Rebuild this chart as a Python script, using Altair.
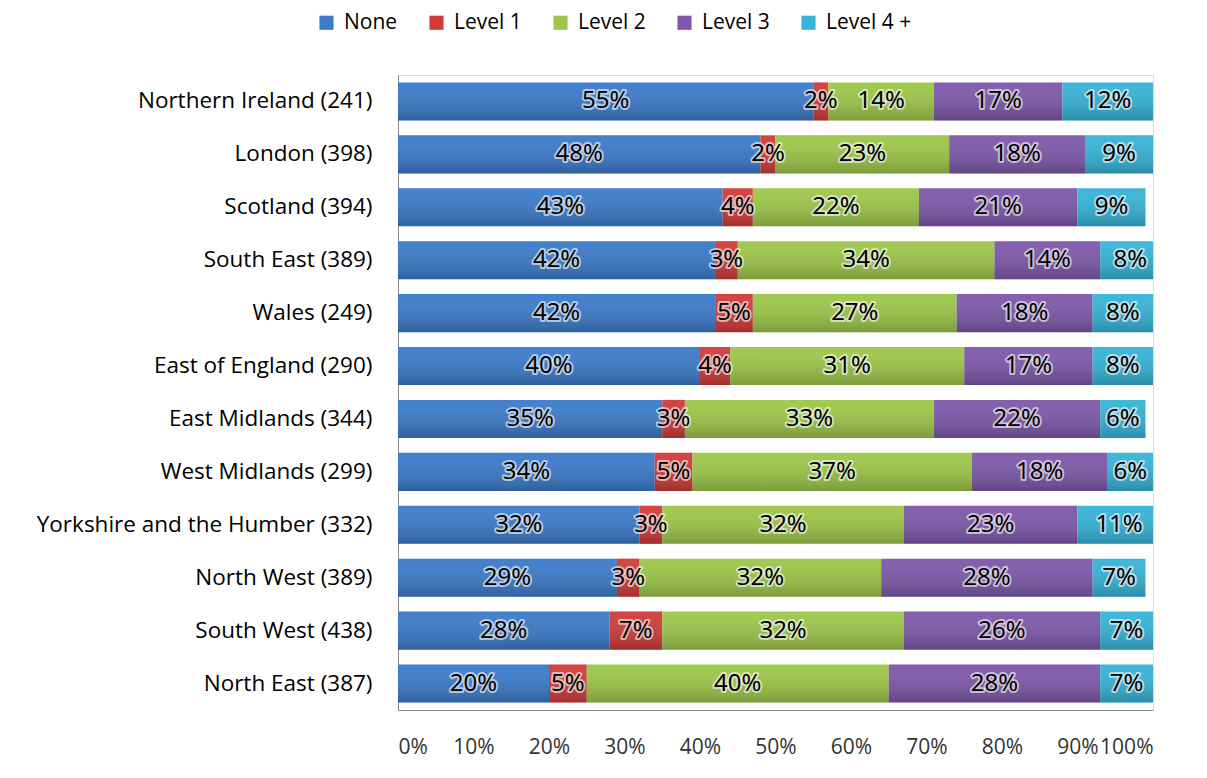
import altair as alt
import pandas as pd

regions = [
    "Northern Ireland (241)", "London (398)", "Scotland (394)", "South East (389)",
    "Wales (249)", "East of England (290)", "East Midlands (344)", "West Midlands (299)",
    "Yorkshire and the Humber (332)", "North West (389)", "South West (438)", "North East (387)",
]
levels = ["None", "Level 1", "Level 2", "Level 3", "Level 4 +"]
none_vals = [55, 48, 43, 42, 42, 40, 35, 34, 32, 29, 28, 20]
level1_vals = [2, 2, 4, 3, 5, 4, 3, 5, 3, 3, 7, 5]
level2_vals = [14, 23, 22, 34, 27, 31, 33, 37, 32, 32, 32, 40]
level3_vals = [17, 18, 21, 14, 18, 17, 22, 18, 23, 28, 26, 28]
level4_vals = [12, 9, 9, 8, 8, 8, 6, 6, 11, 7, 7, 7]
x_ticks = [0, 10, 20, 30, 40, 50, 60, 70, 80, 90, 100]
colors = ["#3B7BCA", "#D03C3A", "#9DC749", "#7E58AA", "#36B4D8"]

series = [none_vals, level1_vals, level2_vals, level3_vals, level4_vals]
rows = []
for li, (lvl, vals) in enumerate(zip(levels, series)):
    for r, v in zip(regions, vals):
        rows.append({"region": r, "level": lvl, "order": li, "value": v})
df = pd.DataFrame(rows)

FONT = "Open Sans"

base = alt.Chart(df).transform_stack(
    stack="value", groupby=["region"], as_=["x0", "x1"],
    sort=[alt.SortField("order", order="ascending")],
).transform_calculate(
    mid="(datum.x0 + datum.x1) / 2",
    label="datum.value + '%'",
)

y_enc = alt.Y(
    "region:N", sort=regions, title=None,
    scale=alt.Scale(paddingInner=0.28, paddingOuter=0.14),
    axis=alt.Axis(labelFontSize=22.5, labelFont=FONT, labelColor="black", ticks=False,
                  domainColor="#888888", labelPadding=26, minExtent=390, maxExtent=390,
                  labelLimit=400),
)
x_enc = alt.X("x0:Q", scale=alt.Scale(domain=[0, 100]), title=None,
              axis=alt.Axis(values=x_ticks, labelOverlap=False,
                            labelExpr="datum.value + '%'", labelFontSize=21, labelFont=FONT,
                            labelColor="#333333", grid=False, ticks=False, domainColor="#888888",
                            labelPadding=26))

bars = base.mark_bar(clip=True).encode(
    y=y_enc,
    x=x_enc,
    x2="x1:Q",
    color=alt.Color("level:N", scale=alt.Scale(domain=levels, range=colors),
                    legend=alt.Legend(title=None, orient="none", legendX=-82, legendY=-63,
                                      direction="horizontal", symbolType="square",
                                      symbolSize=200, symbolStrokeWidth=0,
                                      labelFontSize=21, labelFont=FONT, labelColor="black",
                                      columnPadding=28, labelOffset=7)),
)

shade = base.mark_bar(
    clip=True,
    color=alt.Gradient(
        gradient="linear", x1=0, y1=0, x2=0, y2=1,
        stops=[alt.GradientStop(offset=0, color="rgba(255,255,255,0.04)"),
               alt.GradientStop(offset=1, color="rgba(0,0,0,0.22)")],
    ),
).encode(y=alt.Y("region:N", sort=regions), x="x0:Q", x2="x1:Q")

halo = base.mark_text(fontSize=24, font=FONT, color="black", stroke="white",
                      strokeWidth=4, strokeOpacity=0.6, strokeJoin="round").encode(
    x="mid:Q", y=alt.Y("region:N", sort=regions), text="label:N")
txt = base.mark_text(fontSize=24, font=FONT, color="black").encode(
    x="mid:Q", y=alt.Y("region:N", sort=regions), text="label:N")

chart = alt.layer(bars, shade, halo, txt).properties(
    width=755, height=635, padding={"left": 0, "top": 4, "right": 5, "bottom": 5},
).configure_view(stroke=None).configure(background="white")

chart.save("out.html", embed_options={"renderer": "svg", "actions": False})
